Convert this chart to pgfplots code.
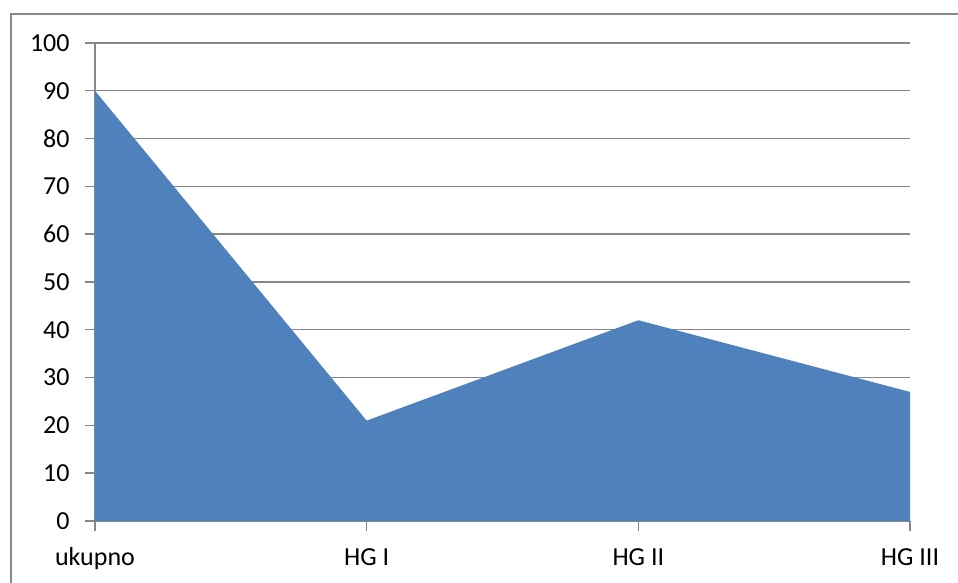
\documentclass[border=0pt]{standalone}
\usepackage{fontspec}
\setmainfont{Carlito}
\usepackage{pgfplots}
\pgfplotsset{compat=1.18}
\definecolor{areablue}{HTML}{4F81BD}
\definecolor{gridgray}{HTML}{878787}
\begin{document}
\fontsize{13}{15.5}\selectfont
\begin{tikzpicture}
\useasboundingbox (0,0) rectangle (479pt,291.5pt);
\draw[gridgray, line width=0.7pt] (5.5pt,-20pt) -- (5.5pt,284.5pt) -- (500pt,284.5pt);
\begin{axis}[
  at={(47.5pt,31pt)}, anchor=south west,
  scale only axis, width=407.5pt, height=239pt,
  xmin=0, xmax=3, ymin=0, ymax=100,
  axis x line=bottom, axis y line=left,
  axis line style={gridgray, line width=0.7pt, -},
  xtick={0,1,2,3},
  xticklabels={ukupno, HG I, HG II, HG III},
  ytick={0,10,...,100},
  tick align=outside,
  major tick length=5pt,
  tick style={gridgray, line width=0.7pt},
  ymajorgrids,
  grid style={gridgray, line width=0.7pt},
  /pgf/number format/assume math mode=true,
  xticklabel style={anchor=base, yshift=-17.5pt, inner sep=0pt, font=\fontsize{13}{15.5}\selectfont},
  yticklabel style={anchor=east, xshift=-7.5pt, inner sep=0pt, font=\fontsize{13}{15.5}\selectfont},
]
\addplot[fill=areablue, draw=none] coordinates {(0,90) (1,21) (2,42) (3,27)} \closedcycle;
\end{axis}
\end{tikzpicture}
\end{document}
